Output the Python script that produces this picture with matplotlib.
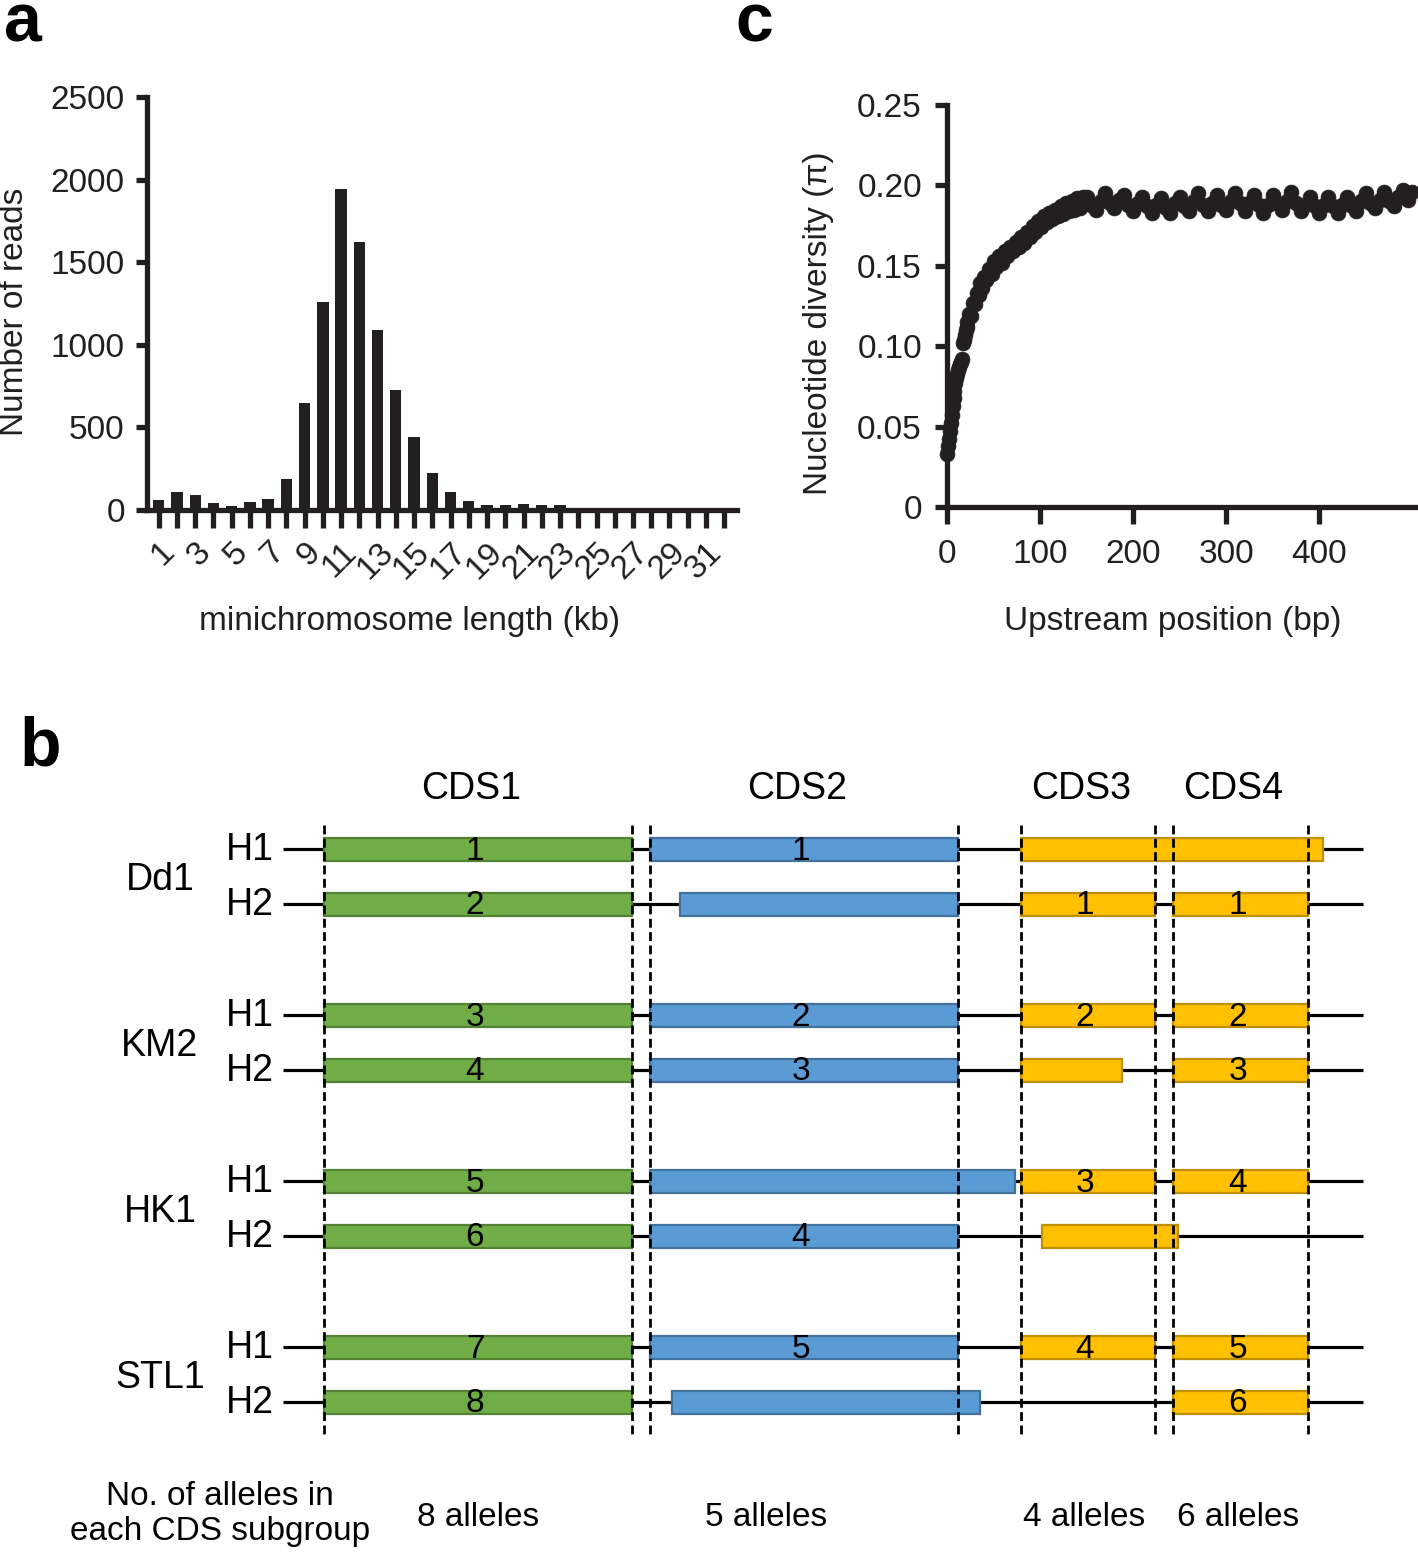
import matplotlib
matplotlib.use('Agg')
import matplotlib.pyplot as plt
from matplotlib.patches import Rectangle

plt.rcParams['font.family'] = ['Liberation Sans', 'DejaVu Sans']

W, H = 1418, 1553
DARK = '#231F20'

# ---------------- Panel a data ----------------
lengths_kb = list(range(1, 33))
reads = [60, 109, 91, 44, 24, 48, 67, 186, 650, 1259, 1945, 1624, 1091, 726,
         442, 224, 109, 56, 30, 30, 36, 30, 30, 15, 6, 4, 3, 3, 2, 2, 2, 2]
xticklabels_a = [str(k) if k % 2 == 1 else '' for k in lengths_kb]
yticks_a = [0, 500, 1000, 1500, 2000, 2500]

# ---------------- Panel c data ----------------
pos_early = [0, 1, 2, 3, 4, 5, 6, 7, 8, 9, 10, 11, 12, 13, 14, 15, 16,
             17, 18, 19, 20, 21, 22, 24, 26, 28, 30, 32, 34, 36, 38, 40, 42, 45, 48,
             50, 53, 56, 59, 62, 65, 68, 71, 74, 77, 80, 83, 86, 89, 92, 95, 98,
             101, 104, 107, 110, 113, 116, 119, 122, 125, 128, 131, 134, 137, 140,
             143, 146]
pi_early = [0.033, 0.038, 0.042, 0.047, 0.052, 0.057, 0.063, 0.068, 0.072, 0.077,
            0.080, 0.083, 0.085, 0.087, 0.089, 0.090, 0.092,
            0.102, 0.104, 0.107, 0.110, 0.112, 0.115, 0.120, 0.119, 0.127, 0.126,
            0.133, 0.132, 0.139, 0.136, 0.143, 0.141, 0.148, 0.145,
            0.153, 0.149, 0.156, 0.152, 0.159, 0.156, 0.162, 0.159, 0.165, 0.162,
            0.168, 0.164, 0.171, 0.168, 0.175, 0.171, 0.178,
            0.174, 0.181, 0.177, 0.183, 0.179, 0.185, 0.181, 0.187, 0.182, 0.189,
            0.184, 0.190, 0.185, 0.192, 0.186, 0.193]
pos_plateau = list(range(150, 505, 5))
pi_plateau = [0.193, 0.188, 0.185, 0.190, 0.195, 0.189, 0.186, 0.191, 0.194, 0.188,
              0.184, 0.189, 0.193, 0.187, 0.183, 0.188, 0.192, 0.186, 0.183, 0.189,
              0.193, 0.187, 0.184, 0.190, 0.195, 0.188, 0.184, 0.189, 0.194, 0.188,
              0.185, 0.190, 0.195, 0.189, 0.184, 0.189, 0.194, 0.188, 0.183, 0.188,
              0.194, 0.189, 0.185, 0.190, 0.196, 0.189, 0.184, 0.188, 0.193, 0.187,
              0.183, 0.188, 0.193, 0.187, 0.183, 0.188, 0.193, 0.187, 0.184, 0.190,
              0.195, 0.189, 0.186, 0.191, 0.196, 0.190, 0.187, 0.193, 0.197, 0.191,
              0.196]
pos_bp = pos_early + pos_plateau
pi_vals = pi_early + pi_plateau
yticks_c = [0, 0.05, 0.10, 0.15, 0.20, 0.25]
yticklabels_c = ['0', '0.05', '0.10', '0.15', '0.20', '0.25']
xticks_c = [0, 100, 200, 300, 400]

# ---------------- Panel b data ----------------
strains = ['Dd1', 'KM2', 'HK1', 'STL1']
haplotypes = ['H1', 'H2']
cds_names = ['CDS1', 'CDS2', 'CDS3', 'CDS4']
cds_start = [41, 367, 738, 890]
cds_end = [349, 675, 872, 1025]
track_length = 1080
allele_labels = ['8 alleles', '5 alleles', '4 alleles', '6 alleles']
allele_label_shift = [0, -38, -4, -2]

# blocks: row index (strain*2 + haplotype), CDS type, start, end, allele label
block_row = [0, 0, 0,
             1, 1, 1, 1,
             2, 2, 2, 2,
             3, 3, 3, 3,
             4, 4, 4, 4,
             5, 5, 5,
             6, 6, 6, 6,
             7, 7, 7]
block_type = [0, 1, 2,
              0, 1, 2, 3,
              0, 1, 2, 3,
              0, 1, 2, 3,
              0, 1, 2, 3,
              0, 1, 2,
              0, 1, 2, 3,
              0, 1, 3]
block_start = [41, 367, 738,
               41, 397, 738, 890,
               41, 367, 738, 890,
               41, 367, 738, 890,
               41, 367, 738, 890,
               41, 367, 759,
               41, 367, 738, 890,
               41, 389, 890]
block_end = [349, 675, 1040,
             349, 675, 872, 1025,
             349, 675, 872, 1025,
             349, 675, 839, 1025,
             349, 732, 872, 1025,
             349, 675, 895,
             349, 675, 872, 1025,
             349, 697, 1025]
block_label = ['1', '1', '',
               '2', '', '1', '1',
               '3', '2', '2', '2',
               '4', '3', '', '3',
               '5', '', '3', '4',
               '6', '4', '',
               '7', '5', '4', '5',
               '8', '', '6']

# styles
face_colors = ['#70AD47', '#5B9BD5', '#FFC000', '#FFC000']
edge_colors = ['#548235', '#41719C', '#C09000', '#C09000']

fig = plt.figure(figsize=(W / 100, H / 100), dpi=100)


def fx(px):
    return px / W


def fy(py):
    return 1 - py / H


SPW = 3.8

# ---------------- Panel a ----------------
axa = fig.add_axes([fx(147), fy(510), fx(737) - fx(147), fy(97) - fy(510)])
axa.bar(lengths_kb, reads, width=0.62, color=DARK, zorder=2)
axa.set_xlim(0.36, 32.7)
axa.set_ylim(0, 2500)
axa.set_yticks(yticks_a)
axa.set_xticks(lengths_kb)
axa.set_xticklabels(xticklabels_a, rotation=45, ha='right', va='top',
                    rotation_mode='anchor')
for s in ['top', 'right']:
    axa.spines[s].set_visible(False)
for s in ['left', 'bottom']:
    axa.spines[s].set_linewidth(SPW)
    axa.spines[s].set_color(DARK)
axa.tick_params(axis='both', width=SPW, color=DARK, labelsize=24, labelcolor=DARK)
axa.tick_params(axis='y', length=8, pad=8)
axa.tick_params(axis='x', length=13, pad=6)
fig.text(fx(15), fy(312), 'Number of reads', rotation=90, ha='center',
         va='center', fontsize=24, color=DARK)
fig.text(fx(410), fy(621), 'minichromosome length (kb)', ha='center',
         va='center', fontsize=24, color=DARK)

# ---------------- Panel c ----------------
axc = fig.add_axes([fx(947), fy(507), fx(1415) - fx(947), fy(105) - fy(507)])
axc.scatter(pos_bp, pi_vals, s=115, color=DARK, edgecolors=DARK, linewidths=0.5,
            clip_on=False, zorder=3)
axc.set_xlim(0, 503)
axc.set_ylim(0, 0.25)
axc.set_yticks(yticks_c)
axc.set_yticklabels(yticklabels_c)
axc.set_xticks(xticks_c)
for s in ['top', 'right']:
    axc.spines[s].set_visible(False)
for s in ['left', 'bottom']:
    axc.spines[s].set_linewidth(SPW)
    axc.spines[s].set_color(DARK)
axc.tick_params(axis='both', width=SPW, color=DARK, labelsize=24, labelcolor=DARK)
axc.tick_params(axis='y', length=9, pad=9)
axc.tick_params(axis='x', length=12, pad=11)
fig.text(fx(818), fy(323), 'Nucleotide diversity (\u03c0)', rotation=90,
         ha='center', va='center', fontsize=24, color=DARK)
fig.text(fx(1173), fy(621), 'Upstream position (bp)', ha='center',
         va='center', fontsize=24, color=DARK)

# ---------------- Panel b ----------------
axb = fig.add_axes([0, 0, 1, 1])
axb.set_xlim(-283, W - 283)
axb.set_ylim(H, 0)
axb.axis('off')

row_top = 849
strain_gap = 166
hap_gap = 55
bar_h = 23


def row_y(r):
    return row_top + strain_gap * (r // 2) + hap_gap * (r % 2)


n_rows = len(strains) * len(haplotypes)
for r in range(n_rows):
    y = row_y(r)
    axb.plot([0, track_length], [y, y], color='black', lw=2.3,
             solid_capstyle='butt', zorder=1)
    axb.text(-9, y + 1, haplotypes[r % 2], ha='right', va='center',
             fontsize=27, color='black')

for g, name in enumerate(strains):
    y = (row_y(2 * g) + row_y(2 * g + 1)) / 2 + 4
    axb.text(-123, y, name, ha='center', va='center', fontsize=27, color='black')

for r, t, s, e, lab in zip(block_row, block_type, block_start, block_end, block_label):
    y = row_y(r)
    axb.add_patch(Rectangle((s, y - bar_h / 2), e - s, bar_h,
                            facecolor=face_colors[t], edgecolor=edge_colors[t],
                            lw=1.6, zorder=2))
    if lab:
        axb.text((s + e) / 2 - 3, y + 2, lab, ha='center', va='center',
                 fontsize=24, color='black', zorder=5)

dash_top, dash_bottom = 825, 1435
for s, e in zip(cds_start, cds_end):
    for b in (s, e):
        axb.plot([b, b], [dash_top, dash_bottom], color='black', lw=2.0,
                 ls=(0, (3.2, 1.6)), zorder=4)

for i, name in enumerate(cds_names):
    cx = (cds_start[i] + cds_end[i]) / 2
    axb.text(cx - 7, 789, name, ha='center', va='center', fontsize=27, color='black')
    axb.text(cx + allele_label_shift[i], 1518, allele_labels[i], ha='center',
             va='center', fontsize=24, color='black')

axb.text(-63, 1514, 'No. of alleles in\neach CDS subgroup', ha='center',
         va='center', fontsize=24, color='black', linespacing=1.15)

# panel letters
fig.text(fx(4), fy(41), 'a', fontsize=49, fontweight='bold', va='baseline')
fig.text(fx(735), fy(41), 'c', fontsize=49, fontweight='bold', va='baseline')
fig.text(fx(20), fy(765), 'b', fontsize=49, fontweight='bold', va='baseline')

fig.savefig('out.png', dpi=100)
